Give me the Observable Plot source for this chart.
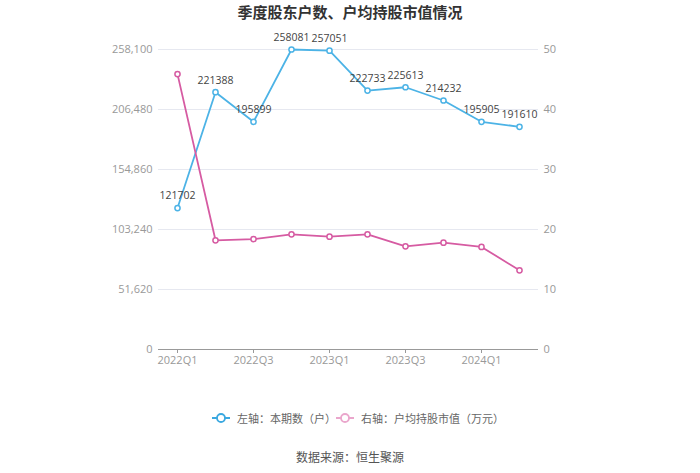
<!DOCTYPE html>
<html>
<head>
<meta charset="utf-8">
<script src="https://cdn.jsdelivr.net/npm/d3@7"></script>
<script src="https://cdn.jsdelivr.net/npm/@observablehq/plot@0.6"></script>
<style>
  html, body { margin: 0; padding: 0; background: #fff; }
  body { width: 700px; height: 473px; position: relative; overflow: hidden;
         font-family: "Open Sans", "Noto Sans CJK SC", sans-serif; }
  #title { position: absolute; top: 2px; left: 0; width: 700px; text-align: center;
           font-size: 15px; font-weight: bold; color: #333; line-height: 20px;
           font-family: "Noto Sans CJK SC", sans-serif; }
  #chart { position: absolute; top: 24px; left: 0; }
  .leg { position: absolute; top: 410px; font-size: 11px; color: #666; line-height: 16px;
         font-family: "Noto Sans CJK SC", sans-serif; display: flex; align-items: center; }
  .leg svg { margin-right: 6px; }
  #caption { position: absolute; top: 448px; left: 0; width: 700px; text-align: center;
             font-size: 12px; color: #555; font-family: "Noto Sans CJK SC", sans-serif; }
</style>
</head>
<body>
<div id="title">季度股东户数、户均持股市值情况</div>
<div id="chart"></div>
<div class="leg" style="left:211px">
  <svg width="20" height="12"><line x1="1" y1="6" x2="19" y2="6" stroke="#3aa8e0" stroke-width="2"/><circle cx="10" cy="6" r="4" fill="#fff" stroke="#3aa8e0" stroke-width="1.8"/></svg>
  <span>左轴：本期数（户）</span>
</div>
<div class="leg" style="left:335px">
  <svg width="20" height="12"><line x1="1" y1="6" x2="19" y2="6" stroke="#eaa6cc" stroke-width="2"/><circle cx="10" cy="6" r="4" fill="#fff" stroke="#eaa6cc" stroke-width="1.8"/></svg>
  <span>右轴：户均持股市值（万元）</span>
</div>
<div id="caption">数据来源：恒生聚源</div>
<script>
const quarters = ["2022Q1","2022Q2","2022Q3","2022Q4","2023Q1","2023Q2","2023Q3","2023Q4","2024Q1","2024Q2"];
const holders = [121702,221388,195899,258081,257051,222733,225613,214232,195905,191610];
const avgValue = [45.9,18.2,18.4,19.2,18.8,19.2,17.2,17.8,17.1,13.2];
const xTickLabels = ["2022Q1","2022Q3","2023Q1","2023Q3","2024Q1"];
const leftTicks = [0,51620,103240,154860,206480,258100];
const rightTicks = [0,10,20,30,40,50];

const leftMax = 258100, rightMax = 50;
const k = leftMax / rightMax;
const blue = "#4cb3e6", pink = "#d65ba2";

const rows = quarters.map((q, i) => ({q, h: holders[i], v: avgValue[i], vs: avgValue[i] * k}));

const chart = Plot.plot({
  width: 700,
  height: 360,
  marginLeft: 158,
  marginRight: 162,
  marginTop: 25,
  marginBottom: 35,
  style: {fontFamily: "'Open Sans', 'Noto Sans CJK SC', sans-serif", fontSize: "11px", background: "#fff"},
  x: {type: "point", domain: quarters, padding: 0.5},
  y: {domain: [0, leftMax]},
  marks: [
    Plot.gridY(leftTicks, {stroke: "#e6e8f0", strokeOpacity: 1, strokeWidth: 1}),
    Plot.axisY(leftTicks, {anchor: "left", tickSize: 0, tickPadding: 6, tickFormat: d3.format(","), fill: "#999", label: null}),
    Plot.axisY(rightTicks.map(d => d * k), {anchor: "right", tickSize: 0, tickPadding: 5, tickFormat: d => String(Math.round(d / k)), fill: "#999", label: null}),
    Plot.ruleY([0], {stroke: "#999", strokeWidth: 1}),
    Plot.axisX(xTickLabels, {anchor: "bottom", tickSize: 4, tickPadding: 3, stroke: "#999", fill: "#999", label: null}),
    Plot.line(rows, {x: "q", y: "h", stroke: blue, strokeWidth: 1.8}),
    Plot.dot(rows, {x: "q", y: "h", r: 2.6, fill: "#fff", stroke: blue, strokeWidth: 1.5}),
    Plot.line(rows, {x: "q", y: "vs", stroke: pink, strokeWidth: 1.8}),
    Plot.dot(rows, {x: "q", y: "vs", r: 2.6, fill: "#fff", stroke: pink, strokeWidth: 1.5}),
    Plot.text(rows, {x: "q", y: "h", text: d => String(d.h), dy: -12, fill: "#444", fontSize: 10.5})
  ]
});
document.getElementById("chart").appendChild(chart);
</script>
</body>
</html>
